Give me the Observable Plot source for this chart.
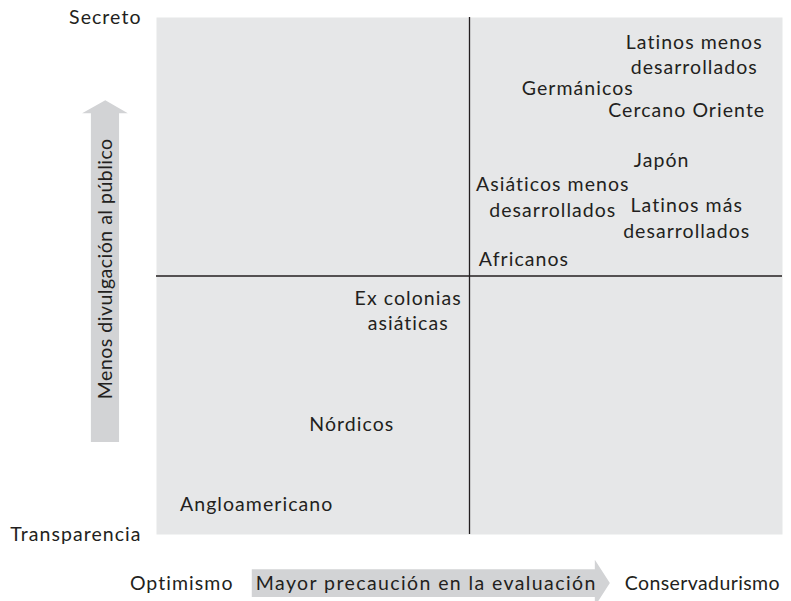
<!DOCTYPE html>
<html>
<head>
<meta charset="utf-8">
<script src="https://cdn.jsdelivr.net/npm/d3@7"></script>
<script src="https://cdn.jsdelivr.net/npm/@observablehq/plot@0.6"></script>
<style>
  html, body { margin: 0; padding: 0; background: #ffffff; }
  #chart { width: 791px; height: 601px; overflow: hidden; }
</style>
</head>
<body>
<div id="chart"></div>
<script>
// Cluster labels and their positions on the two dimensions (0–10 scale, 5 = midpoint)
const clusters = [
  "Latinos menos\ndesarrollados",
  "Germánicos",
  "Cercano Oriente",
  "Japón",
  "Asiáticos menos\ndesarrollados",
  "Latinos más\ndesarrollados",
  "Africanos",
  "Ex colonias\nasiáticas",
  "Nórdicos",
  "Angloamericano"
];
const precaution = [8.59, 6.73, 8.47, 8.07, 6.33, 8.47, 5.87, 4.02, 3.12, 1.60];
const secrecy    = [9.31, 8.65, 8.24, 7.27, 6.55, 6.14, 5.36, 4.36, 2.15, 0.62];

// Quadrant dividers
const midX = [5];
const midY = [5];

// Axis end labels
const yTickValues = [0, 10];
const yTickLabels = ["Transparencia", "Secreto"];
const xStartLabel = "Optimismo";
const xEndLabel = "Conservadurismo";
const xStartValue = 1.23;
const xEndValue = 7.48;
const xEndLevel = -0.95;

// Axis arrows (shape in data units)
const hArrowText = "Mayor precaución en la evaluación";
const hArrowTextX = 4.31;
const hArrowX      = [1.53, 7.01, 7.01, 7.25];
const hArrowTop    = [-0.68, -0.68, -0.50, -0.95];
const hArrowBottom = [-1.22, -1.22, -1.40, -0.95];

const vArrowText = "Menos divulgación al público";
const vArrowTextY = 5.14;
const vArrowY     = [1.78, 8.14, 8.14, 8.39];
const vArrowLeft  = [-1.04, -1.04, -1.18, -0.81];
const vArrowRight = [-0.59, -0.59, -0.45, -0.81];

const points = clusters.map((name, i) => ({name, x: precaution[i], y: secrecy[i]}));
const hArrow = hArrowX.map((x, i) => ({x, y1: hArrowTop[i], y2: hArrowBottom[i]}));
const vArrow = vArrowY.map((y, i) => ({y, x1: vArrowLeft[i], x2: vArrowRight[i]}));

const ink = "#231f20";
const fs = 19.5;

const chart = Plot.plot({
  width: 791,
  height: 601,
  marginLeft: 156,
  marginRight: 9,
  marginTop: 17,
  marginBottom: 67,
  style: {fontFamily: "Lato, 'Open Sans', sans-serif", fontSize: fs + "px", color: ink, background: "#ffffff", overflow: "hidden", letterSpacing: "1.05px"},
  x: {domain: [0, 10], axis: null},
  y: {domain: [0, 10], axis: null},
  marks: [
    Plot.frame({fill: "#e6e7e8", stroke: "none"}),
    Plot.ruleX(midX, {stroke: ink, strokeWidth: 1.3}),
    Plot.ruleY(midY, {stroke: ink, strokeWidth: 1.3}),
    Plot.axisY({ticks: yTickValues, tickFormat: d => yTickLabels[yTickValues.indexOf(d)], tickSize: 0, tickPadding: 15, fontSize: fs, fill: ink, label: null}),
    Plot.areaY(hArrow, {x: "x", y1: "y1", y2: "y2", fill: "#d2d3d5", curve: "linear"}),
    Plot.areaX(vArrow, {y: "y", x1: "x1", x2: "x2", fill: "#d2d3d5", curve: "linear"}),
    Plot.text([hArrowText], {x: hArrowTextX, y: xEndLevel, text: d => d, fontSize: fs, fill: ink}),
    Plot.text([vArrowText], {x: (vArrowLeft[0] + vArrowRight[0]) / 2, y: vArrowTextY, text: d => d, rotate: -90, fontSize: fs, fill: ink}),
    Plot.text([xStartLabel], {x: xStartValue, y: xEndLevel, text: d => d, textAnchor: "end", fontSize: fs, fill: ink}),
    Plot.text([xEndLabel], {x: xEndValue, y: xEndLevel, text: d => d, textAnchor: "start", fontSize: fs, fill: ink}),
    Plot.text(points, {x: "x", y: "y", text: "name", textAnchor: "middle", lineHeight: 1.3, fontSize: fs, fill: ink})
  ]
});
document.getElementById("chart").append(chart);
const svgText = d3.select(chart).selectAll("text");
svgText.filter(function() { return this.textContent === hArrowText; }).style("letter-spacing", "1.4px");
svgText.filter(function() { return this.textContent === vArrowText; }).style("letter-spacing", "0.5px");
svgText.filter(function() { return this.textContent === xEndLabel; }).style("letter-spacing", "0.4px");
</script>
</body>
</html>
